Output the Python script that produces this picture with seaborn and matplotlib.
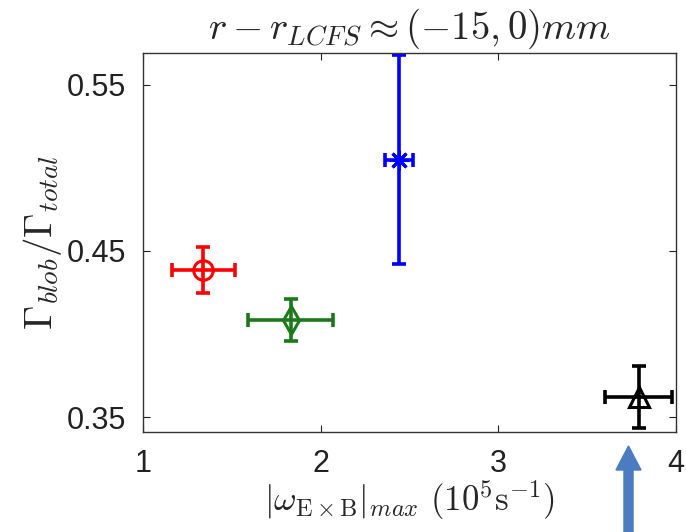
import numpy as np
import matplotlib
matplotlib.use("Agg")
import matplotlib.pyplot as plt
import seaborn as sns
from matplotlib.patches import FancyArrow

# values
omega = [1.34, 1.83, 2.44, 3.79]
omega_err = [0.175, 0.24, 0.08, 0.19]
ratio = [0.4386, 0.4084, 0.505, 0.362]
ratio_err = [0.014, 0.0127, 0.063, 0.0185]
colors = ['#ff0000', '#1a7a1a', '#0000ff', '#000000']
markers = ['o', 'd', (8, 2, 0), '^']

sns.set_style('white')
plt.rcParams['font.family'] = ['Liberation Sans', 'DejaVu Sans']
plt.rcParams['mathtext.fontset'] = 'cm'

fig = plt.figure(figsize=(6.86, 5.32), dpi=100)
ax = fig.add_axes([0.2085, 0.188, 0.777, 0.712])

for x, xe, y, ye, c, m in zip(omega, omega_err, ratio, ratio_err, colors, markers):
    ax.errorbar(x, y, xerr=xe, yerr=ye, fmt='none', ecolor=c,
                elinewidth=2.6, capsize=5, capthick=2.6)
    ax.plot(x, y, marker=m, ms=14, mfc='none', mec=c, mew=2.2, ls='none')

ax.set_xlim(1, 4)
ax.set_ylim(0.341, 0.569)
ax.set_xticks([1, 2, 3, 4])
ax.set_yticks([0.35, 0.45, 0.55])
ax.set_yticklabels(['0.35', '0.45', '0.55'])
ax.tick_params(direction='in', length=5, width=0.8, top=True, right=True,
               left=True, bottom=True, labelsize=22, pad=12,
               colors='#222222')
for s in ax.spines.values():
    s.set_color('#333333')
    s.set_linewidth(1.0)

ax.set_title(r'$r - r_{LCFS} \approx (-15, 0)mm$', fontsize=28, pad=10)
ax.set_ylabel(r'$\Gamma_{blob}/\Gamma_{total}$', fontsize=28, labelpad=2)
ax.set_xlabel(r'$|\omega_{\rm E\times B}|_{max}\ (10^5{\rm s}^{-1})$',
              fontsize=25, labelpad=0)

# blue pointer arrow below the black point
arrow = FancyArrow(628.5, 0, 0, 86, width=9, head_width=25, head_length=24,
                   length_includes_head=True, color='#4a7cbf',
                   transform=None, clip_on=False)
fig.patches.append(arrow)

fig.savefig('out.png', dpi=100)
